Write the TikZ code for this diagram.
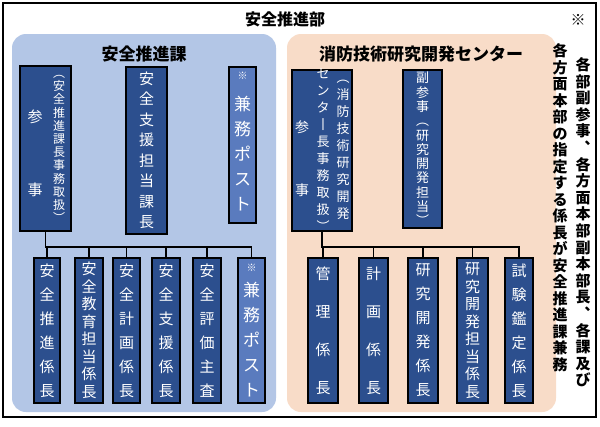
\documentclass[tikz,border=0pt]{standalone}
\usepackage{fontspec}
\setmainfont{Noto Sans CJK JP}
\begin{document}
\begin{tikzpicture}[x=1pt,y=-1pt,
  box/.style={draw=black,line width=1.2pt,fill=boxblue,inner sep=0pt,text=white,align=center},
  lbox/.style={box,fill=boxlight},
  lbl/.style={text=white,inner sep=0pt,align=center},
  ln/.style={line width=1.6pt,black}]
\definecolor{boxblue}{HTML}{2C4F8E}
\definecolor{boxlight}{HTML}{5A7BBE}
\definecolor{panblue}{HTML}{B3C6E6}
\definecolor{panor}{HTML}{F8DCC8}
\useasboundingbox (0,0) rectangle (600,426);
\fill[white] (0,0) rectangle (600,426);
\draw[line width=1.5pt] (3,3) rectangle (596,417);
\node[font=\bfseries\fontsize{16}{16}\selectfont] (t) at (285,19) {安全推進部};
\fill[panblue,rounded corners=14pt] (12,34) rectangle (276,412);
\fill[panor,rounded corners=14pt] (287,34) rectangle (556,412);
\node[font=\bfseries\fontsize{17}{17}\selectfont] (h1) at (144,54) {安全推進課};
\node[font=\bfseries\fontsize{17}{17}\selectfont] (h2) at (421,54) {消防技術研究開発センター};
% note
\node[font=\fontsize{15}{15}\selectfont] (n0) at (578,20) {※};
\node[font=\bfseries\fontsize{15}{16.6}\selectfont,align=center,anchor=north] (n1) at (583,54) {各\\部\\副\\参\\事\\︑\\各\\方\\面\\本\\部\\副\\本\\部\\長\\︑\\各\\課\\及\\び};
\node[font=\bfseries\fontsize{15}{16.5}\selectfont,align=center,anchor=north] (n2) at (560,40) {各\\方\\面\\本\\部\\の\\指\\定\\す\\る\\係\\長\\が\\安\\全\\推\\進\\課\\兼\\務};
% left top boxes
\node[box,minimum width=51,minimum height=165] (p1) at (45.5,148.5) {};
\node[lbl,font=\fontsize{15}{15}\selectfont] (p1a) at (35,117) {参};
\node[lbl,font=\fontsize{15}{15}\selectfont] (p1b) at (35,190) {事};
\node[lbl,font=\fontsize{12}{13.2}\selectfont] (p1c) at (59,149) {︵\\安\\全\\推\\進\\課\\長\\事\\務\\取\\扱\\︶};
\node[box,minimum width=41,minimum height=167,font=\fontsize{15}{20.5}\selectfont] (p2) at (146.5,150.5) {安\\全\\支\\援\\担\\当\\課\\長};
\node[lbox,minimum width=27,minimum height=156] (p3) at (242.5,145) {};
\node[lbl,font=\fontsize{10}{10}\selectfont] (p3a) at (242.5,76) {※};
\node[lbl,font=\fontsize{17}{25}\selectfont] (p3b) at (242.5,154) {兼\\務\\ポ\\ス\\ト};
% right top boxes
\node[box,minimum width=60,minimum height=161] (q1) at (322,150.5) {};
\node[lbl,font=\fontsize{14}{14}\selectfont] (q1a) at (302,127) {参};
\node[lbl,font=\fontsize{14}{14}\selectfont] (q1b) at (302,190) {事};
\node[lbl,font=\fontsize{13}{17}\selectfont] (q1c) at (343,150) {︵\\消\\防\\技\\術\\研\\究\\開\\発};
\node[lbl,font=\fontsize{13}{17}\selectfont] (q1d) at (323,150) {セ\\ン\\タ\\丨\\長\\事\\務\\取\\扱\\︶};
\node[box,minimum width=39,minimum height=158,font=\fontsize{13}{14.3}\selectfont] (q2) at (422.5,149) {副\\参\\事\\︵\\研\\究\\開\\発\\担\\当\\︶};
% bottom left
\node[box,minimum width=26,minimum height=145,font=\fontsize{15}{24}\selectfont] (c1) at (47,330.5) {安\\全\\推\\進\\係\\長};
\node[box,minimum width=28,minimum height=145,font=\fontsize{15}{17.5}\selectfont] (c2) at (89,330.5) {安\\全\\教\\育\\担\\当\\係\\長};
\node[box,minimum width=27,minimum height=145,font=\fontsize{15}{24}\selectfont] (c3) at (126.5,330.5) {安\\全\\計\\画\\係\\長};
\node[box,minimum width=28,minimum height=145,font=\fontsize{15}{24}\selectfont] (c4) at (166,330.5) {安\\全\\支\\援\\係\\長};
\node[box,minimum width=28,minimum height=145,font=\fontsize{15}{24}\selectfont] (c5) at (207,330.5) {安\\全\\評\\価\\主\\査};
\node[lbox,minimum width=27,minimum height=145] (c6) at (251.5,330.5) {};
\node[lbl,font=\fontsize{10}{10}\selectfont] (c6a) at (251.5,268) {※};
\node[lbl,font=\fontsize{17}{25}\selectfont] (c6b) at (251.5,340) {兼\\務\\ポ\\ス\\ト};
% bottom right
\node[box,minimum width=30,minimum height=145,font=\fontsize{15}{38}\selectfont] (d1) at (323,330.5) {管\\理\\係\\長};
\node[box,minimum width=29,minimum height=145,font=\fontsize{15}{38}\selectfont] (d2) at (373.5,330.5) {計\\画\\係\\長};
\node[box,minimum width=30,minimum height=145,font=\fontsize{15}{24}\selectfont] (d3) at (423,330.5) {研\\究\\開\\発\\係\\長};
\node[box,minimum width=31,minimum height=145,font=\fontsize{15}{17.5}\selectfont] (d4) at (472.5,330.5) {研\\究\\開\\発\\担\\当\\係\\長};
\node[box,minimum width=28,minimum height=145,font=\fontsize{15}{24}\selectfont] (d5) at (519,330.5) {試\\験\\鑑\\定\\係\\長};
% connectors
\draw[ln] (p1.south) -- (p1.south |- 0,247) -| (c6.north);
\foreach \c in {c1,c2,c3,c4,c5} \draw[ln] (\c.north) -- (\c.north |- 0,247);
\draw[ln] (q1.south) -- (q1.south |- 0,247) -| (d5.north);
\foreach \c in {d1,d2,d3,d4} \draw[ln] (\c.north) -- (\c.north |- 0,247);
\end{tikzpicture}
\end{document}
